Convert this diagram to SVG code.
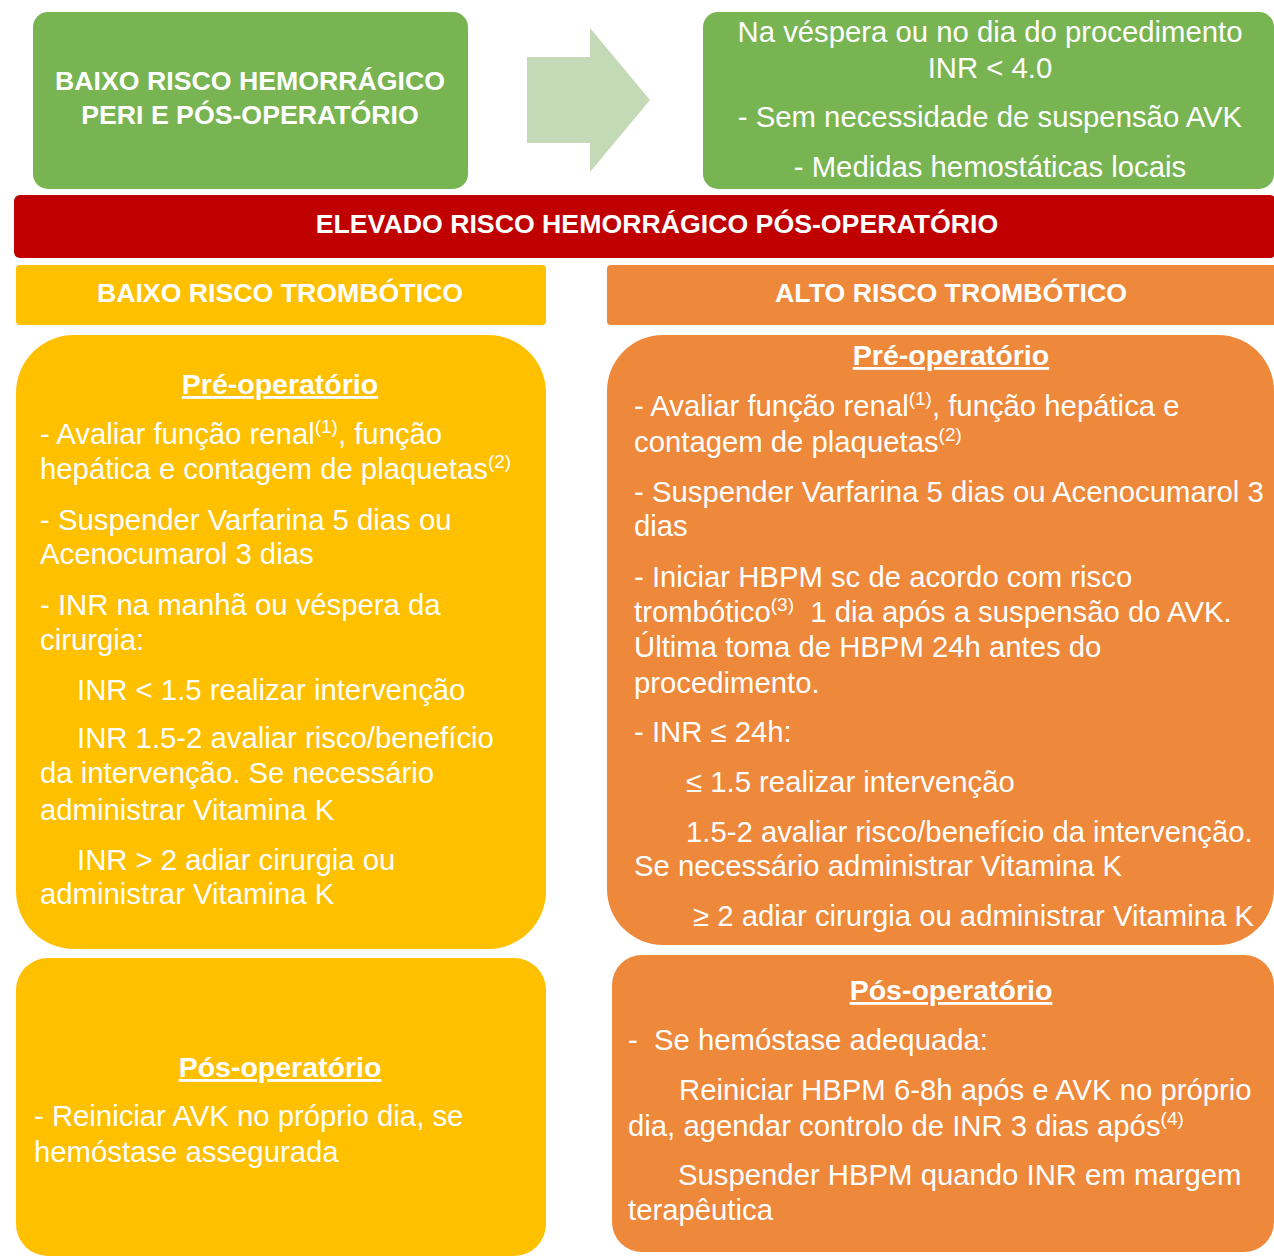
<svg xmlns="http://www.w3.org/2000/svg" width="1274" height="1258" viewBox="0 0 1274 1258">
<style>
text{font-family:"Liberation Sans",Arial,sans-serif;fill:#fff}
.b{font-weight:bold;font-size:26.7px}
.t{font-size:29.3px}
.h{font-weight:bold;font-size:28.5px;text-decoration:underline}
.c{text-anchor:middle}
.green{fill:#79b452}
.yel{fill:#ffc000}
.org{fill:#ee883b}
</style>
<rect width="1274" height="1258" fill="#fff"/>
<g id="connectors">
<polygon points="527,57 590,57 590,28 650,100 590,172 590,143 527,143" fill="#c4dab6"/>
</g>
<g id="baixo-risco-hemorragico">
<rect class="green" x="33" y="12" width="435" height="177" rx="15"/>
<text class="b c" x="250" y="90">BAIXO RISCO HEMORRÁGICO</text>
<text class="b c" x="250" y="124">PERI E PÓS-OPERATÓRIO</text>
</g>
<g id="na-vespera">
<rect class="green" x="703" y="12" width="571" height="177" rx="15"/>
<text class="t c" x="990" y="42">Na véspera ou no dia do procedimento</text>
<text class="t c" x="990" y="78">INR &lt; 4.0</text>
<text class="t c" x="990" y="127">- Sem necessidade de suspensão AVK</text>
<text class="t c" x="990" y="177">- Medidas hemostáticas locais</text>
</g>
<g id="elevado-risco">
<rect x="14" y="195" width="1262" height="63" rx="6" fill="#c00000"/>
<text class="b c" x="657" y="233">ELEVADO RISCO HEMORRÁGICO PÓS-OPERATÓRIO</text>
</g>
<g id="baixo-risco-trombotico">
<rect class="yel" x="16" y="265" width="530" height="60" rx="4"/>
<text class="b c" x="280" y="302">BAIXO RISCO TROMBÓTICO</text>
</g>
<g id="alto-risco-trombotico">
<rect class="org" x="607" y="265" width="670" height="60" rx="4"/>
<text class="b c" x="951" y="302">ALTO RISCO TROMBÓTICO</text>
</g>
<g id="baixo-pre">
<rect class="yel" x="16" y="335" width="530" height="614" rx="58"/>
<text class="h c" x="280" y="394">Pré-operatório</text>
<text class="t" x="40" y="444">- Avaliar função renal<tspan font-size="19" dy="-11">(1)</tspan><tspan dy="11">, função</tspan></text>
<text class="t" x="40" y="479">hepática e contagem de plaquetas<tspan font-size="19" dy="-11">(2)</tspan></text>
<text class="t" x="40" y="530">- Suspender Varfarina 5 dias ou</text>
<text class="t" x="40" y="564">Acenocumarol 3 dias</text>
<text class="t" x="40" y="615">- INR na manhã ou véspera da</text>
<text class="t" x="40" y="650">cirurgia:</text>
<text class="t" x="77" y="700">INR &lt; 1.5 realizar intervenção</text>
<text class="t" x="77" y="748">INR 1.5-2 avaliar risco/benefício</text>
<text class="t" x="40" y="783">da intervenção. Se necessário</text>
<text class="t" x="40" y="820">administrar Vitamina K</text>
<text class="t" x="77" y="870">INR &gt; 2 adiar cirurgia ou</text>
<text class="t" x="40" y="904">administrar Vitamina K</text>
</g>
<g id="baixo-pos">
<rect class="yel" x="16" y="958" width="530" height="298" rx="32"/>
<text class="h c" x="280" y="1077">Pós-operatório</text>
<text class="t" x="34" y="1126">- Reiniciar AVK no próprio dia, se</text>
<text class="t" x="34" y="1162">hemóstase assegurada</text>
</g>
<g id="alto-pre">
<rect class="org" x="607" y="335" width="667" height="610" rx="56"/>
<text class="h c" x="951" y="365">Pré-operatório</text>
<text class="t" x="634" y="416">- Avaliar função renal<tspan font-size="19" dy="-11">(1)</tspan><tspan dy="11">, função hepática e</tspan></text>
<text class="t" x="634" y="452">contagem de plaquetas<tspan font-size="19" dy="-11">(2)</tspan></text>
<text class="t" x="634" y="502">- Suspender Varfarina 5 dias ou Acenocumarol 3</text>
<text class="t" x="634" y="536">dias</text>
<text class="t" x="634" y="587">- Iniciar HBPM sc de acordo com risco</text>
<text class="t" x="634" y="622" xml:space="preserve">trombótico<tspan font-size="19" dy="-11">(3)</tspan><tspan dy="11">  1 dia após a suspensão do AVK.</tspan></text>
<text class="t" x="634" y="657">Última toma de HBPM 24h antes do</text>
<text class="t" x="634" y="693">procedimento.</text>
<text class="t" x="634" y="742">- INR ≤ 24h:</text>
<text class="t" x="686" y="792">≤ 1.5 realizar intervenção</text>
<text class="t" x="686" y="842">1.5-2 avaliar risco/benefício da intervenção.</text>
<text class="t" x="634" y="876">Se necessário administrar Vitamina K</text>
<text class="t" x="693" y="926">≥ 2 adiar cirurgia ou administrar Vitamina K</text>
</g>
<g id="alto-pos">
<rect class="org" x="612" y="955" width="662" height="297" rx="30"/>
<text class="h c" x="951" y="1000">Pós-operatório</text>
<text class="t" x="628" y="1050" xml:space="preserve">-  Se hemóstase adequada:</text>
<text class="t" x="679" y="1100">Reiniciar HBPM 6-8h após e AVK no próprio</text>
<text class="t" x="628" y="1136">dia, agendar controlo de INR 3 dias após<tspan font-size="19" dy="-11">(4)</tspan></text>
<text class="t" x="678" y="1185">Suspender HBPM quando INR em margem</text>
<text class="t" x="628" y="1220">terapêutica</text>
</g>
</svg>
